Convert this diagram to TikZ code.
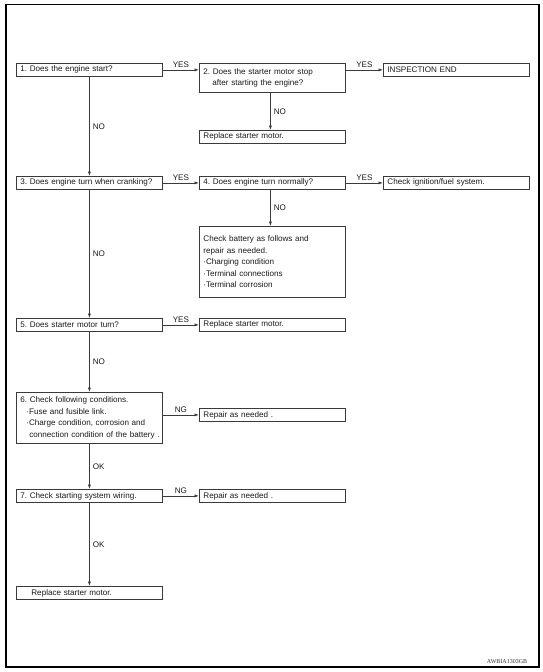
\documentclass[tikz,border=0pt]{standalone}
\usepackage{fontspec}
\setmainfont{Liberation Sans}
\newfontfamily\codefont{Liberation Serif}
\usetikzlibrary{arrows.meta}
\definecolor{boxgray}{HTML}{3A3A3A}
\frenchspacing
\begin{document}
\begin{tikzpicture}[x=1pt,y=-1pt,
  every node/.style={font=\fontsize{8.1}{11.5}\selectfont, text=black!90},
  box/.style={draw=boxgray, line width=0.8pt, rectangle, anchor=north west,
    inner xsep=4pt, inner ysep=1pt, text width=138pt, align=left, minimum height=13pt},
  conn/.style={draw=boxgray, line width=0.7pt, -{Latex[length=4.5pt,width=3.2pt]}},
  lab/.style={font=\fontsize{8.1}{10}\selectfont, inner sep=1pt}
]
\useasboundingbox (0,0) rectangle (542,672);
\draw[line width=1.2pt] (6,4.5) rectangle (539,667);

% row 1
\node[box] (b1) at (16,63) {1. Does the engine start?};
\node[box, minimum height=29pt] (b2) at (199,63) {2. Does the starter motor stop\\\hspace*{9pt}after starting the engine?};
\node[box] (ie) at (383,63) {INSPECTION END};
\node[box] (r2) at (199,130) {Replace starter motor.};

% row 3
\node[box] (b3) at (16,176) {3. Does engine turn when cranking?};
\node[box] (b4) at (199,176) {4. Does engine turn normally?};
\node[box] (ci) at (383,176) {Check ignition/fuel system.};
\node[box, minimum height=71pt] (cb) at (199,226) {Check battery as follows and\\repair as needed.\\·Charging condition\\·Terminal connections\\·Terminal corrosion};

% row 5
\node[box] (b5) at (16,318) {5. Does starter motor turn?};
\node[box] (r5) at (199,318) {Replace starter motor.};

% row 6
\node[box, minimum height=51pt] (b6) at (16,392) {6. Check following conditions.\\\hspace*{6pt}·Fuse and fusible link.\\\hspace*{6pt}·Charge condition, corrosion and\\\hspace*{9pt}\mbox{connection condition of the battery .}};
\node[box] (r6) at (199,408) {Repair as needed .};

% row 7
\node[box] (b7) at (16,489) {7. Check starting system wiring.};
\node[box] (r7) at (199,489) {Repair as needed .};

% final
\node[box] (fin) at (16,586) {\hspace*{11pt}Replace starter motor.};

% code
\node[font=\codefont\fontsize{6}{7}\selectfont, text=black!80] (code) at (507,662) {AWBIA1303GB};

% horizontal connectors
\draw[conn] (b1.east) -- node[lab, above=1pt] {YES} (b2.west |- b1.east);
\draw[conn] (b2.east |- ie.west) -- node[lab, above=1pt] {YES} (ie.west);
\draw[conn] (b3.east) -- node[lab, above=1pt] {YES} (b4.west);
\draw[conn] (b4.east) -- node[lab, above=1pt] {YES} (ci.west);
\draw[conn] (b5.east) -- node[lab, above=1pt] {YES} (r5.west);
\draw[conn] (b6.east |- r6.west) -- node[lab, above=1pt] {NG} (r6.west);
\draw[conn] (b7.east) -- node[lab, above=1pt] {NG} (r7.west);

% vertical connectors
\draw[conn] (b1.south) -- node[lab, right=2pt] {NO} (b3.north);
\draw[conn] (b3.south) -- node[lab, right=2pt] {NO} (b5.north);
\draw[conn] (b5.south) -- node[lab, right=2pt] {NO} (b6.north);
\draw[conn] (b6.south) -- node[lab, right=2pt] {OK} (b7.north);
\draw[conn] (b7.south) -- node[lab, right=2pt] {OK} (fin.north);
\draw[conn] ([xshift=-2pt]b2.south) -- node[lab, right=2pt] {NO} ([xshift=-2pt]r2.north);
\draw[conn] ([xshift=-2pt]b4.south) -- node[lab, right=2pt] {NO} ([xshift=-2pt]cb.north);
\end{tikzpicture}
\end{document}
